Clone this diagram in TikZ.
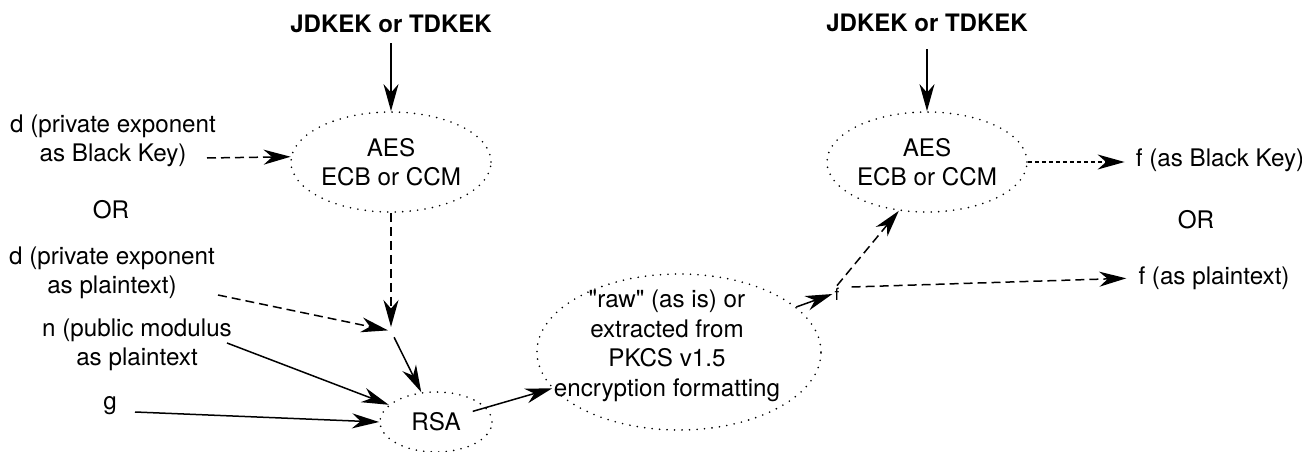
\documentclass[tikz,border=0pt]{standalone}
\usepackage{fontspec}
\setmainfont{TeX Gyre Heros}[Ligatures=TeXOff]
\usetikzlibrary{arrows.meta,shapes.geometric}
\begin{document}
\begin{tikzpicture}[x=1pt,y=-1pt,
  txt/.style={font=\fontsize{24.2}{29.5}\selectfont, align=center, inner sep=2pt},
  boldtxt/.style={txt, font=\fontsize{24}{29.5}\selectfont\bfseries},
  blob/.style={ellipse, draw, line width=1.8pt, dash pattern=on 0pt off 7.5pt,
    line cap=round, inner sep=0pt, align=center, font=\fontsize{24.2}{29.5}\selectfont},
  tip/.style={-{Stealth[length=27pt,width=15pt,inset=8.5pt]}},
  solidarr/.style={tip, line width=1.5pt},
  dasharr/.style={tip, line width=1.5pt, dash pattern=on 9pt off 5pt},
  finearr/.style={tip, line width=1.5pt, dash pattern=on 4pt off 3pt}]
\useasboundingbox (0,0) rectangle (1302,452);

% key-encryption keys
\node[boldtxt] (jd1) at (391,24) {JDKEK or TDKEK};
\node[boldtxt] (jd2) at (927,23) {JDKEK or TDKEK};

% processing blocks
\node[blob, minimum width=200pt, minimum height=100pt] (aes1) at (391,162) {AES\\ECB or CCM};
\node[blob, minimum width=200pt, minimum height=100pt] (aes2) at (927,162) {AES\\ECB or CCM};
\node[blob, minimum width=112pt, minimum height=60pt] (rsa) at (436,422) {RSA};
\node[blob, minimum width=284pt, minimum height=156pt] (pkcs) at (679,352) {};
\node[txt] (pkcstxt) at (667,346) {"raw" (as is) or\\extracted from\\PKCS v1.5\\encryption formatting};

% inputs
\node[txt] (dbk) at (113,141) {d (private exponent\\as Black Key)};
\node[txt] (or1) at (111,210) {OR};
\node[txt] (dpt) at (112,273) {d (private exponent\\as plaintext)};
\node[txt] (npt) at (137,345) {n (public modulus\\as plaintext};
\node[txt] (g) at (110,406) {g};

% outputs
\node[txt, font=\fontsize{17}{20}\selectfont] (f) at (837,294) {f};
\node[txt] (fbk) at (1220,160) {f (as Black Key)};
\node[txt] (or2) at (1196,220) {OR};
\node[txt] (fpt) at (1214,278) {f (as plaintext)};

% connector ends
\coordinate (dbk-out) at (207,158);
\coordinate (dpt-out) at (218,295);
\coordinate (npt-out) at (227,343);
\coordinate (g-out) at (135,412);
\coordinate (j) at (391,331);

% connectors
\draw[solidarr, shorten <=8pt] (jd1) -- (aes1.north);
\draw[solidarr, shorten <=15pt] (jd2) -- (aes2.north);
\draw[dasharr] (dbk-out) -- (aes1.177);
\draw[dasharr, shorten >=4pt] (aes1.south) -- (j);
\draw[dasharr, shorten >=3pt] (dpt-out) -- (j);
\draw[solidarr, shorten <=7pt] (j) -- (rsa);
\draw[solidarr] (npt-out) -- (rsa.160);
\draw[solidarr] (g-out) -- (rsa.west);
\draw[solidarr, shorten <=-14pt] (rsa) -- (pkcs.196);
\draw[solidarr] (pkcs.21) -- (f.west);
\draw[dasharr] (f.north) -- (aes2.240);
\draw[dasharr, shorten >=10pt] ([xshift=10pt,yshift=7pt]f.east) -- (fpt.west);
\draw[finearr, shorten >=9pt] (aes2.east) -- (aes2.east -| fbk.west);
\end{tikzpicture}
\end{document}
